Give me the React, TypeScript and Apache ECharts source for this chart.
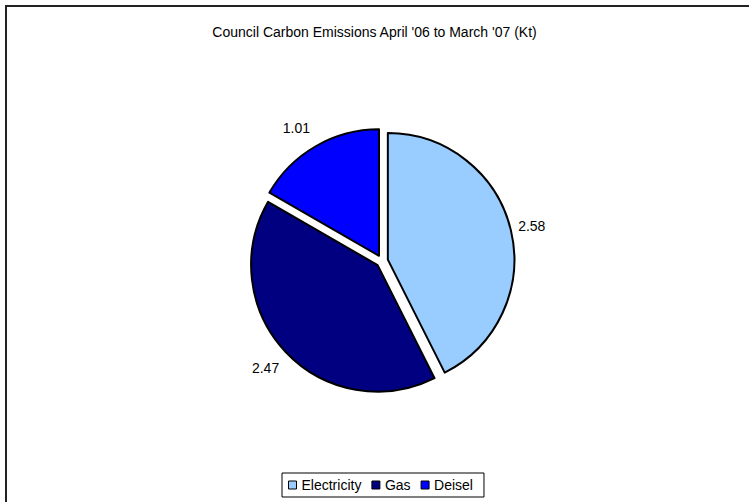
import React, { useEffect, useRef } from "react";
import * as echarts from "echarts";

const titleText = "Council Carbon Emissions April '06 to March '07 (Kt)";
const categories = ["Electricity", "Gas", "Deisel"];
const values = [2.58, 2.47, 1.01];
const colors = ["#99CCFF", "#000080", "#0000FF"];
// label placement tweaks (line length / distance) per slice
const labelLengths = [17.5, 23.5, 21];
const labelDistances = [-9.8, -10.6, -4.8];

const FONT = "'Liberation Sans', Arial, sans-serif";

export default function App() {
  const ref = useRef<HTMLDivElement>(null);
  useEffect(() => {
    if (!ref.current) return;
    const chart = echarts.init(ref.current, undefined, { renderer: "svg" });
    chart.setOption({
      animation: false,
      backgroundColor: "#ffffff",
      title: {
        text: titleText,
        left: "center",
        top: 20,
        textStyle: { fontFamily: FONT, fontSize: 14, fontWeight: "normal", color: "#000" },
      },
      legend: {
        data: categories,
        left: 282,
        top: 473,
        orient: "horizontal",
        padding: [5, 11, 5, 6],
        itemGap: 10,
        itemWidth: 8,
        itemHeight: 8,
        icon: "rect",
        borderColor: "#000",
        borderWidth: 1,
        itemStyle: { borderColor: "#000", borderWidth: 1 },
        textStyle: { fontFamily: FONT, fontSize: 14, color: "#000" },
        selectedMode: false,
      },
      graphic: [
        {
          type: "rect",
          shape: { x: 6, y: 6, width: 800, height: 600 },
          style: { fill: "none", stroke: "#222", lineWidth: 2 },
          silent: true,
        },
      ],
      series: [
        {
          type: "pie",
          center: [382, 261],
          radius: 126.5,
          startAngle: 90,
          clockwise: true,
          selectedMode: "multiple",
          selectedOffset: 6,
          avoidLabelOverlap: false,
          emphasis: { disabled: true },
          itemStyle: { borderColor: "#000", borderWidth: 2 },
          label: {
            show: true,
            position: "outside",
            formatter: (p: any) => p.value.toFixed(2),
            fontFamily: FONT,
            fontSize: 14,
            color: "#000",
          },
          labelLine: { show: false },
          data: categories.map((name, i) => ({
            name,
            value: values[i],
            selected: true,
            itemStyle: { color: colors[i] },
            label: { distanceToLabelLine: labelDistances[i] },
            labelLine: { show: false, length: labelLengths[i], length2: 0 },
          })),
        },
      ],
    });
    return () => chart.dispose();
  }, []);
  return (
    <div
      ref={ref}
      style={{ position: "fixed", left: 0, top: 0, width: 749, height: 502 }}
    />
  );
}
